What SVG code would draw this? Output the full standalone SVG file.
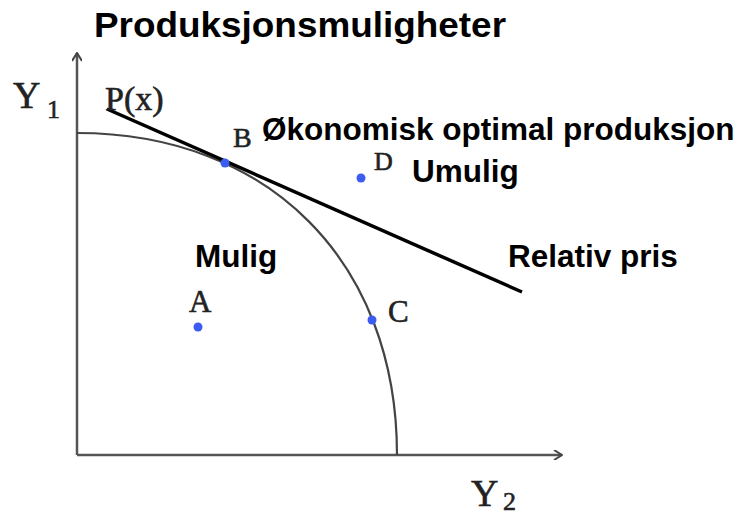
<svg xmlns="http://www.w3.org/2000/svg" width="743" height="516" viewBox="0 0 743 516">
<defs>
<style>
.lbl{font-family:"Liberation Sans",Arial,sans-serif;font-weight:bold;fill:#000}
.ser{font-family:"Liberation Serif","Times New Roman",serif;fill:#222;stroke:#222;stroke-width:0.6}
.axis{stroke:#555;stroke-width:2.5;fill:none}
.dot{fill:#3b5cf0}
</style>
<marker id="arr" viewBox="0 0 10 10" refX="9" refY="5" markerWidth="10" markerHeight="10" markerUnits="userSpaceOnUse" orient="auto">
<path d="M1,0 L9,5 L1,10" fill="none" stroke="#444" stroke-width="2"/>
</marker>
</defs>
<rect width="743" height="516" fill="#fff"/>
<text class="lbl" x="94" y="37" font-size="35" textLength="412" lengthAdjust="spacingAndGlyphs">Produksjonsmuligheter</text>
<g id="connectors">
<path class="axis" d="M77,455 L77,53" marker-end="url(#arr)"/>
<path class="axis" d="M77,455 L562,455" marker-end="url(#arr)"/>
<path d="M77,133 C269,133 397,262 397,455" fill="none" stroke="#444" stroke-width="2.2"/>
<path d="M107,109 L522,292" stroke="#000" stroke-width="3.5" fill="none"/>
</g>
<g id="axis-y1"><text class="ser" x="13" y="108" font-size="38">Y</text><text class="ser" x="47" y="118" font-size="26">1</text></g>
<g id="axis-y2"><text class="ser" x="471" y="506" font-size="38">Y</text><text class="ser" x="503" y="510" font-size="26">2</text></g>
<g id="px"><text class="ser" x="105" y="110" font-size="34">P(x)</text></g>
<g id="B"><circle class="dot" cx="225" cy="163" r="4.5"/><text class="ser" x="233" y="147" font-size="28">B</text></g>
<g id="D"><circle class="dot" cx="361" cy="178" r="4.5"/><text class="ser" x="374" y="170" font-size="26">D</text></g>
<g id="A"><circle class="dot" cx="198" cy="327" r="4.5"/><text class="ser" x="189" y="312" font-size="31">A</text></g>
<g id="C"><circle class="dot" cx="372" cy="320" r="4.5"/><text class="ser" x="388" y="322" font-size="31">C</text></g>
<g id="opt"><text class="lbl" x="262" y="140" font-size="31.5">Økonomisk optimal produksjon</text></g>
<g id="umulig"><text class="lbl" x="412" y="182" font-size="31.5">Umulig</text></g>
<g id="mulig"><text class="lbl" x="195" y="267" font-size="31.5">Mulig</text></g>
<g id="pris"><text class="lbl" x="508" y="267" font-size="31.5">Relativ pris</text></g>
</svg>
